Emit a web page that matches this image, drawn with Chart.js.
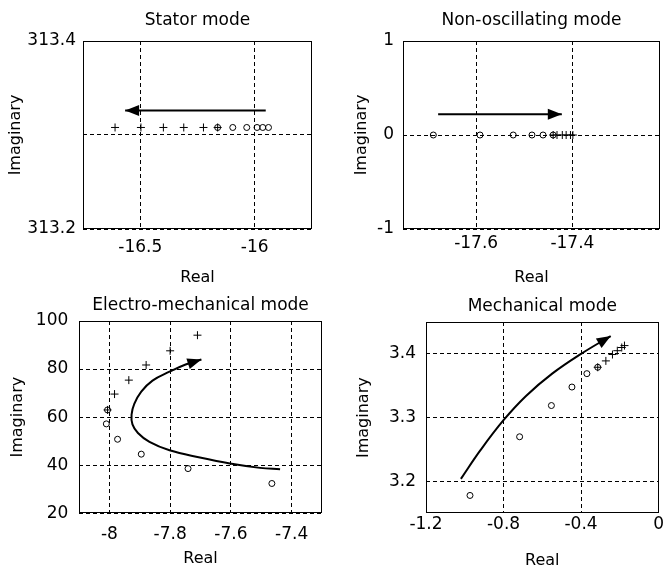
<!DOCTYPE html>
<html lang="en">
<head>
  <meta charset="UTF-8" />
  <title>Mode trajectories</title>
  <script src="https://cdn.jsdelivr.net/npm/chart.js@4.4.1/dist/chart.umd.min.js"></script>
  <style>
    body { margin: 0; background: #fff; }
    #wrap { position: relative; width: 665px; height: 570px; overflow: hidden; }
    canvas { position: absolute; }
  </style>
</head>
<body>
  <div id="wrap">
    <canvas id="stator" width="332" height="287" style="left:0;top:0"></canvas>
    <canvas id="nonosc" width="333" height="287" style="left:332px;top:0"></canvas>
    <canvas id="electro" width="332" height="285" style="left:0;top:285px"></canvas>
    <canvas id="mech" width="333" height="285" style="left:332px;top:285px"></canvas>
  </div>

  <script>
    // --- Stator mode ---
    const statorPlusX = [-16.61, -16.497, -16.399, -16.31, -16.224, -16.162];
    const statorPlusY = [313.308, 313.308, 313.308, 313.308, 313.308, 313.308];
    const statorCircX = [-16.162, -16.096, -16.035, -15.99, -15.965, -15.94];
    const statorCircY = [313.308, 313.308, 313.308, 313.308, 313.308, 313.308];
    const statorArrowX = [-15.952, -16.566];
    const statorArrowY = [313.326, 313.326];
    const statorXTicks = [-16.5, -16];
    const statorYTicks = [313.2, 313.3, 313.4];

    // --- Non-oscillating mode ---
    const nonoscCircX = [-17.689, -17.592, -17.523, -17.484, -17.461, -17.44];
    const nonoscCircY = [0, 0, 0, 0, 0, 0];
    const nonoscPlusX = [-17.44, -17.432, -17.421, -17.413, -17.404, -17.399];
    const nonoscPlusY = [0, 0, 0, 0, 0, 0];
    const nonoscArrowX = [-17.679, -17.422];
    const nonoscArrowY = [0.22, 0.22];
    const nonoscXTicks = [-17.6, -17.4];
    const nonoscYTicks = [-1, 0, 1];

    // --- Electro-mechanical mode ---
    const electroPlusX = [-8.006, -7.983, -7.936, -7.879, -7.8, -7.71];
    const electroPlusY = [63, 69.6, 75.4, 81.7, 87.6, 94.1];
    const electroCircX = [-8.006, -8.01, -7.973, -7.895, -7.741, -7.465];
    const electroCircY = [63, 57.2, 50.8, 44.6, 38.6, 32.4];
    const electroCurveX = [-7.438, -7.504, -7.603, -7.702, -7.802, -7.868, -7.906, -7.924, -7.927, -7.918, -7.895, -7.858, -7.802, -7.749, -7.697];
    const electroCurveY = [38.3, 38.9, 40.7, 43.2, 46.2, 49.7, 53.4, 57.0, 61.0, 65.5, 70.6, 75.2, 78.9, 81.9, 84.0];
    const electroXTicks = [-8, -7.8, -7.6, -7.4];
    const electroYTicks = [20, 40, 60, 80, 100];

    // --- Mechanical mode ---
    const mechCircX = [-0.973, -0.717, -0.553, -0.447, -0.37, -0.314];
    const mechCircY = [3.178, 3.27, 3.319, 3.348, 3.369, 3.379];
    const mechPlusX = [-0.314, -0.272, -0.238, -0.213, -0.19, -0.176];
    const mechPlusY = [3.379, 3.389, 3.399, 3.405, 3.41, 3.413];
    const mechCurveX = [-1.02, -0.919, -0.8, -0.684, -0.549, -0.4, -0.247];
    const mechCurveY = [3.204, 3.249, 3.296, 3.334, 3.369, 3.4, 3.428];
    const mechXTicks = [-1.2, -0.8, -0.4, 0];
    const mechYTicks = [3.2, 3.3, 3.4];

    const FONT = 'DejaVu Sans';

    function pts(xs, ys) {
      return xs.map((x, i) => ({ x, y: ys[i] }));
    }

    // box around the plot area and a filled head on the arrow (dataset 0)
    const framePlugin = {
      id: 'frame',
      afterDatasetsDraw(chart) {
        const { ctx, chartArea: a } = chart;
        const meta = chart.getDatasetMeta(0);
        const n = meta.data.length;
        const p1 = meta.data[n - 2], p2 = meta.data[n - 1];
        const ang = Math.atan2(p2.y - p1.y, p2.x - p1.x);
        const len = 14, half = 5.5;
        const bx = p2.x - len * Math.cos(ang), by = p2.y - len * Math.sin(ang);
        ctx.save();
        ctx.fillStyle = '#000';
        ctx.beginPath();
        ctx.moveTo(p2.x, p2.y);
        ctx.lineTo(bx + half * Math.sin(ang), by - half * Math.cos(ang));
        ctx.lineTo(bx - half * Math.sin(ang), by + half * Math.cos(ang));
        ctx.closePath();
        ctx.fill();
        ctx.strokeStyle = '#000';
        ctx.lineWidth = 1;
        ctx.strokeRect(Math.round(a.left) + 0.5, Math.round(a.top) + 0.5,
                       Math.round(a.right - a.left) - 1, Math.round(a.bottom - a.top) - 1);
        ctx.restore();
      }
    };

    function makeChart(id, o) {
      const datasets = [
        { type: 'line', data: pts(o.lineX, o.lineY), borderColor: '#000', borderWidth: 2,
          pointRadius: 0, tension: o.tension || 0, fill: false },
        { data: pts(o.plusX, o.plusY), pointStyle: 'cross', pointRadius: 4,
          borderColor: '#000', borderWidth: 1 },
        { data: pts(o.circX, o.circY), pointStyle: 'circle', pointRadius: 3,
          borderColor: '#000', backgroundColor: 'rgba(0,0,0,0)', borderWidth: 1 }
      ];
      const hide = o.yHide || [];
      new Chart(document.getElementById(id), {
        type: 'scatter',
        data: { datasets },
        options: {
          responsive: false,
          animation: false,
          events: [],
          layout: { padding: { left: 0, right: o.padRight, top: 0, bottom: 0 } },
          plugins: {
            legend: { display: false },
            tooltip: { enabled: false },
            title: {
              display: true, text: o.title, color: '#000', fullSize: false,
              font: { family: FONT, size: 17, weight: 'normal', lineHeight: 1.2 },
              padding: { top: o.titleTop, bottom: o.titleBottom }
            }
          },
          scales: {
            x: {
              type: 'linear', min: o.xMin, max: o.xMax,
              afterBuildTicks: s => { s.ticks = o.xTicks.map(v => ({ value: v })); },
              afterFit: s => { s.height = o.xH; },
              ticks: { color: '#000', font: { family: FONT, size: 17 }, padding: o.xPad,
                       maxRotation: 0, autoSkip: false, callback: v => String(v) },
              grid: { color: '#000', lineWidth: 1, drawTicks: false },
              border: { display: false, dash: [4, 3] },
              title: { display: true, text: 'Real', color: '#000',
                       font: { family: FONT, size: 16, lineHeight: 1.2 },
                       padding: { top: 0, bottom: o.xTitlePad } }
            },
            y: {
              type: 'linear', min: o.yMin, max: o.yMax,
              afterBuildTicks: s => { s.ticks = o.yTicks.map(v => ({ value: v })); },
              afterFit: s => { s.width = o.yW; },
              ticks: { color: '#000', font: { family: FONT, size: 17 }, padding: o.yPad,
                       autoSkip: false, callback: v => hide.includes(v) ? '' : String(v) },
              grid: { color: '#000', lineWidth: 1, drawTicks: false },
              border: { display: false, dash: [4, 3] },
              title: { display: true, text: 'Imaginary', color: '#000',
                       font: { family: FONT, size: 16, lineHeight: 1.2 },
                       padding: { top: o.yTitlePad, bottom: 0 } }
            }
          }
        },
        plugins: [framePlugin]
      });
    }

    makeChart('stator', {
      title: 'Stator mode', titleTop: 10, titleBottom: 10.6,
      lineX: statorArrowX, lineY: statorArrowY,
      plusX: statorPlusX, plusY: statorPlusY, circX: statorCircX, circY: statorCircY,
      xMin: -16.75, xMax: -15.75, yMin: 313.2, yMax: 313.4,
      xTicks: statorXTicks, yTicks: statorYTicks, yHide: [313.3],
      padRight: 20, yW: 83, xH: 58, xPad: 8, yPad: 7, xTitlePad: 0, yTitlePad: 6.7
    });

    makeChart('nonosc', {
      title: 'Non-oscillating mode', titleTop: 10, titleBottom: 10.6,
      lineX: nonoscArrowX, lineY: nonoscArrowY,
      plusX: nonoscPlusX, plusY: nonoscPlusY, circX: nonoscCircX, circY: nonoscCircY,
      xMin: -17.752, xMax: -17.218, yMin: -1, yMax: 1,
      xTicks: nonoscXTicks, yTicks: nonoscYTicks,
      padRight: 5, yW: 71, xH: 58, xPad: 4, yPad: 9, xTitlePad: 0, yTitlePad: 20
    });

    makeChart('electro', {
      title: 'Electro-mechanical mode', titleTop: 10.8, titleBottom: 4.8, tension: 0.4,
      lineX: electroCurveX, lineY: electroCurveY,
      plusX: electroPlusX, plusY: electroPlusY, circX: electroCircX, circY: electroCircY,
      xMin: -8.1, xMax: -7.3, yMin: 20, yMax: 100,
      xTicks: electroXTicks, yTicks: electroYTicks,
      padRight: 10, yW: 79, xH: 56.7, xPad: 11.5, yPad: 10.7, xTitlePad: 1.4, yTitlePad: 8.7
    });

    makeChart('mech', {
      title: 'Mechanical mode', titleTop: 11.8, titleBottom: 4.8, tension: 0.4,
      lineX: mechCurveX, lineY: mechCurveY,
      plusX: mechPlusX, plusY: mechPlusY, circX: mechCircX, circY: mechCircY,
      xMin: -1.2, xMax: 0, yMin: 3.15, yMax: 3.45,
      xTicks: mechXTicks, yTicks: mechYTicks,
      padRight: 3, yW: 94, xH: 56.7, xPad: 1, yPad: 10, xTitlePad: 0, yTitlePad: 22.6
    });
  </script>
</body>
</html>
